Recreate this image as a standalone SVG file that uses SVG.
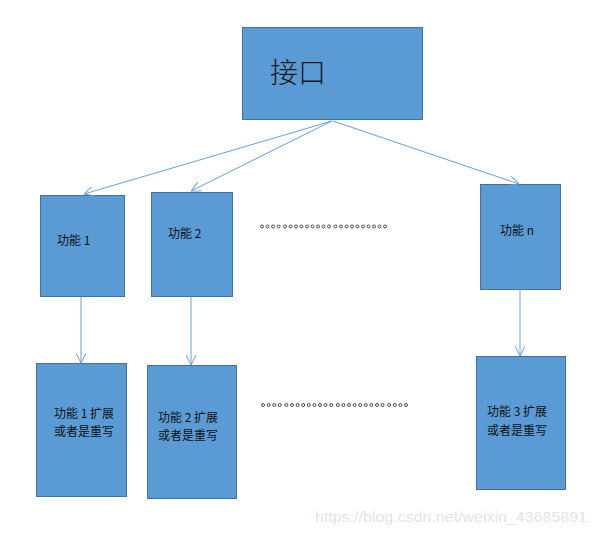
<svg xmlns="http://www.w3.org/2000/svg" width="595" height="534" viewBox="0 0 595 534">
<defs>
<style>
.box{fill:#5b9bd5;stroke:#41719c;stroke-width:1}
.t{font-family:"Noto Sans CJK SC","Noto Sans",sans-serif;font-size:12px;fill:#111}
.big{font-family:"Noto Sans CJK SC","Noto Sans",sans-serif;font-size:28px;fill:#1a1a1a;font-weight:300}
.conn line{stroke:#6a9fd4;stroke-width:1;fill:none}
.dot{fill:none;stroke:#222;stroke-width:0.8}
.wm{font-family:"Liberation Sans",Arial,sans-serif;font-size:15px;fill:#e4e4e4}
</style>
<marker id="arr" viewBox="0 0 10 10" refX="10" refY="5" markerWidth="10" markerHeight="10" markerUnits="userSpaceOnUse" orient="auto">
<path d="M0,0 L10,5 L0,10" fill="none" stroke="#6a9fd4" stroke-width="1"/>
</marker>
<circle id="d" r="1.5" class="dot"/>
</defs>
<rect width="595" height="534" fill="#ffffff"/>
<g id="interface">
<rect class="box" x="242.5" y="27.5" width="180" height="92"/>
<text class="big" x="270" y="83">接口</text>
</g>
<g id="f1">
<rect class="box" x="40.5" y="195.5" width="84" height="101"/>
<text class="t" x="57" y="244.5" xml:space="preserve">功能 1</text>
</g>
<g id="f2">
<rect class="box" x="151.5" y="192.5" width="81" height="104"/>
<text class="t" x="168" y="237.5" xml:space="preserve">功能 2</text>
</g>
<g id="fn">
<rect class="box" x="480.5" y="184.5" width="80" height="105"/>
<text class="t" x="500" y="234.5" xml:space="preserve">功能 n</text>
</g>
<g id="e1">
<rect class="box" x="36.5" y="363.5" width="90" height="133"/>
<text class="t" x="54" y="417.5" xml:space="preserve">功能 1 扩展</text>
<text class="t" x="54" y="435.5">或者是重写</text>
</g>
<g id="e2">
<rect class="box" x="147.5" y="365.5" width="89" height="133"/>
<text class="t" x="158" y="421.5" xml:space="preserve">功能 2 扩展</text>
<text class="t" x="158" y="439.5">或者是重写</text>
</g>
<g id="e3">
<rect class="box" x="476.5" y="356.5" width="89" height="133"/>
<text class="t" x="487" y="415.5" xml:space="preserve">功能 3 扩展</text>
<text class="t" x="487" y="434.5">或者是重写</text>
</g>
<g id="dots1">
<use href="#d" x="262" y="226.5"/><use href="#d" x="267.5" y="226.5"/><use href="#d" x="273" y="226.5"/><use href="#d" x="278.5" y="226.5"/>
<use href="#d" x="285" y="226.5"/><use href="#d" x="290.5" y="226.5"/><use href="#d" x="296" y="226.5"/><use href="#d" x="301.5" y="226.5"/><use href="#d" x="307" y="226.5"/><use href="#d" x="312.5" y="226.5"/><use href="#d" x="318" y="226.5"/><use href="#d" x="323.5" y="226.5"/><use href="#d" x="329" y="226.5"/>
<use href="#d" x="335.5" y="226.5"/><use href="#d" x="341" y="226.5"/><use href="#d" x="346.5" y="226.5"/><use href="#d" x="352" y="226.5"/><use href="#d" x="357.5" y="226.5"/><use href="#d" x="363" y="226.5"/><use href="#d" x="368.5" y="226.5"/><use href="#d" x="374" y="226.5"/><use href="#d" x="379.5" y="226.5"/>
<use href="#d" x="385" y="226.5"/>
</g>
<g id="dots2">
<use href="#d" x="263" y="405"/><use href="#d" x="268.6" y="405"/><use href="#d" x="274.2" y="405"/><use href="#d" x="279.8" y="405"/>
<use href="#d" x="286.4" y="405"/><use href="#d" x="292" y="405"/><use href="#d" x="297.6" y="405"/><use href="#d" x="303.2" y="405"/><use href="#d" x="308.8" y="405"/><use href="#d" x="314.4" y="405"/><use href="#d" x="320" y="405"/><use href="#d" x="325.6" y="405"/><use href="#d" x="331.2" y="405"/>
<use href="#d" x="337.8" y="405"/><use href="#d" x="343.4" y="405"/><use href="#d" x="349" y="405"/><use href="#d" x="354.6" y="405"/><use href="#d" x="360.2" y="405"/><use href="#d" x="365.8" y="405"/><use href="#d" x="371.4" y="405"/><use href="#d" x="377" y="405"/><use href="#d" x="382.6" y="405"/>
<use href="#d" x="389.2" y="405"/><use href="#d" x="394.8" y="405"/><use href="#d" x="400.4" y="405"/><use href="#d" x="406" y="405"/>
</g>
<g id="connectors" class="conn">
<line x1="332" y1="121" x2="84" y2="194" marker-end="url(#arr)"/>
<line x1="332" y1="121" x2="191" y2="191" marker-end="url(#arr)"/>
<line x1="333" y1="121" x2="519" y2="184" marker-end="url(#arr)"/>
<line x1="81" y1="297" x2="81" y2="363" marker-end="url(#arr)"/>
<line x1="191" y1="297" x2="191" y2="365" marker-end="url(#arr)"/>
<line x1="520" y1="290" x2="520" y2="356" marker-end="url(#arr)"/>
</g>
<text class="wm" x="315" y="522" textLength="272" lengthAdjust="spacingAndGlyphs">https://blog.csdn.net/weixin_43685891</text>
</svg>
